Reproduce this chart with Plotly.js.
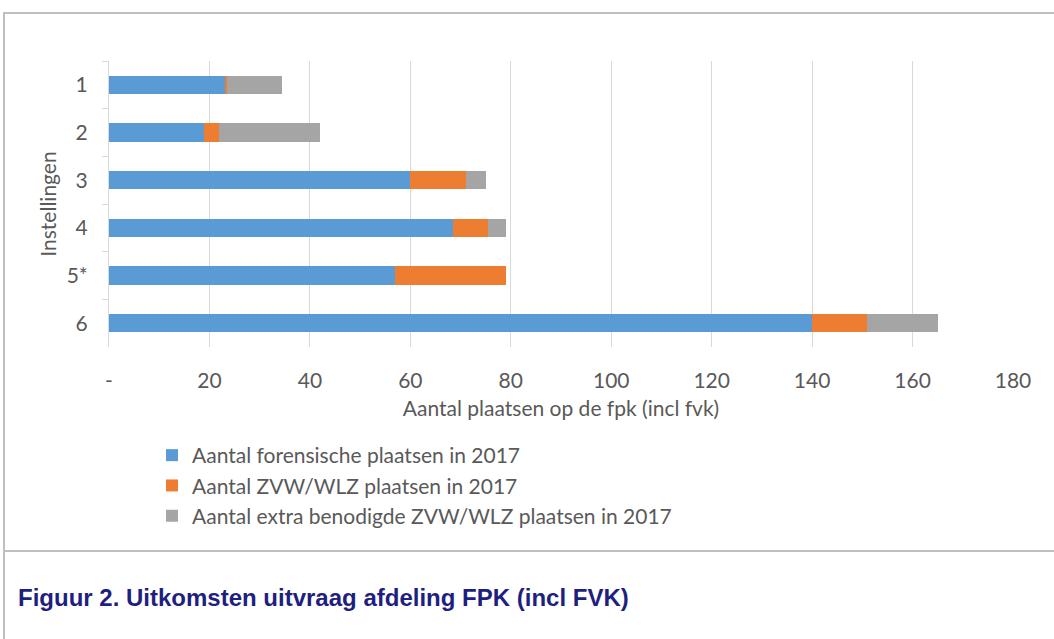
<!DOCTYPE html>
<html>
<head>
<meta charset="utf-8">
<script src="https://cdn.plot.ly/plotly-3.0.1.min.js"></script>
<style>
html,body{margin:0;padding:0;background:#fff;}
#chart{width:1054px;height:639px;}
</style>
</head>
<body>
<div id="chart"></div>
<script>
var categories = ["1", "2", "3", "4", "5*", "6"];
var forensisch = [23, 19, 60, 68.5, 57, 140];
var zvwWlz = [0.5, 3, 11, 7, 22, 11];
var extraZvwWlz = [11, 20, 4, 3.5, 0, 14];
var seriesNames = [
  "Aantal forensische plaatsen in 2017",
  "Aantal ZVW/WLZ plaatsen in 2017",
  "Aantal extra benodigde ZVW/WLZ plaatsen in 2017"
];
var xTickVals = [0, 20, 40, 60, 80, 100, 120, 140, 160, 180];
var xTickText = ["-", "20", "40", "60", "80", "100", "120", "140", "160", "180"];
var caption = "Figuur 2. Uitkomsten uitvraag afdeling FPK (incl FVK)";

var colors = ["#5B9BD5", "#ED7D31", "#A5A5A5"];
var seriesData = [forensisch, zvwWlz, extraZvwWlz];
var FONT = "Lato, sans-serif";
var FS = 21;

var traces = seriesData.map(function (vals, i) {
  return {
    type: "bar",
    orientation: "h",
    name: seriesNames[i],
    x: vals,
    y: categories,
    legendgroup: "g" + i,
    marker: {color: colors[i], line: {width: 0}},
    hoverinfo: "x+name"
  };
});

var L = 109, R = 41, T = 61, B = 292, W = 1054, H = 639;
var PW = W - L - R, PH = H - T - B;
function px(x) { return (x - L) / PW; }
function py(y) { return 1 - (y - T) / PH; }

var lineStyle = {color: "#BFBFBF", width: 2};

var layout = {
  width: W, height: H,
  margin: {l: L, r: R, t: T, b: B, pad: 0},
  paper_bgcolor: "#fff",
  plot_bgcolor: "#fff",
  barmode: "stack",
  bargap: 0.61,
  font: {family: FONT, size: FS, color: "#595959"},
  showlegend: true,
  legend: {
    orientation: "v",
    x: px(152), xanchor: "left",
    y: py(435), yanchor: "top",
    traceorder: "normal",
    tracegroupgap: 6,
    font: {family: FONT, size: FS, color: "#595959"},
    itemwidth: 30,
    bgcolor: "rgba(0,0,0,0)"
  },
  xaxis: {
    range: [0, 180],
    tickvals: xTickVals,
    ticktext: xTickText,
    showgrid: true,
    gridcolor: "#D9D9D9",
    gridwidth: 1,
    zeroline: false,
    showline: false,
    ticks: "",
    ticklabelstandoff: 19,
    tickfont: {family: FONT, size: FS, color: "#595959"},
    title: {text: "Aantal plaatsen op de fpk (incl fvk)", font: {family: FONT, size: FS, color: "#595959"}, standoff: 10},
    fixedrange: true
  },
  yaxis: {
    type: "category",
    autorange: "reversed",
    showgrid: false,
    showline: true,
    linecolor: "#D9D9D9",
    linewidth: 1,
    ticks: "outside",
    tickson: "boundaries",
    ticklen: 6,
    tickcolor: "#D9D9D9",
    ticklabelstandoff: 16,
    tickfont: {family: FONT, size: FS, color: "#595959"},
    title: {text: "Instellingen", font: {family: FONT, size: FS, color: "#595959"}, standoff: 4},
    fixedrange: true
  },
  shapes: [
    {type: "line", xref: "paper", yref: "paper", x0: px(3), x1: px(1054), y0: py(13), y1: py(13), line: lineStyle},
    {type: "line", xref: "paper", yref: "paper", x0: px(4), x1: px(4), y0: py(12), y1: py(639), line: lineStyle},
    {type: "line", xref: "paper", yref: "paper", x0: px(3), x1: px(1054), y0: py(551), y1: py(551), line: lineStyle}
  ],
  annotations: [
    {
      xref: "paper", yref: "paper",
      x: px(16), y: py(597),
      xanchor: "left", yanchor: "middle",
      showarrow: false,
      text: "<b>" + caption + "</b>",
      font: {family: "Arial, Liberation Sans, sans-serif", size: 24, color: "#1F1F80"}
    }
  ]
};

Plotly.newPlot("chart", traces, layout, {displayModeBar: false, staticPlot: true});
</script>
</body>
</html>
